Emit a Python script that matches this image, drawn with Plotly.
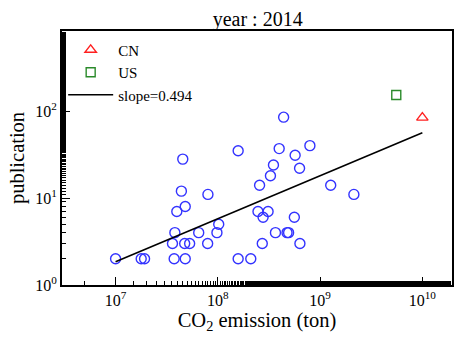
import plotly.graph_objects as go

# blue circles: other countries
emission = [1e7, 1.78e7, 1.92e7, 3.74e7, 4.8e7, 1.58e8, 2.1e8,
            3.6e7, 4.74e7, 5.3e7, 7.95e7, 2.72e8, 6.35e8,
            3.8e7, 6.5e7, 9.8e7, 3.66e8, 4.75e8, 4.92e8,
            1.02e8, 2.77e8, 5.6e8, 3.97e7, 2.47e8, 3.1e8, 4.8e7,
            4.4e7, 8e7, 2.56e8, 1.27e9, 2.14e9, 3.27e8, 3.5e8, 6.3e8,
            4.54e7, 5.7e8, 1.58e8, 3.98e8, 7.95e8, 4.4e8]
publication = [2, 2, 2, 2, 2, 2, 2,
               3, 3, 3, 3, 3, 3,
               4, 4, 4, 4, 4, 4,
               5, 6, 6, 7, 7, 7, 8,
               12, 11, 14, 14, 11, 18, 24, 22,
               28, 31, 35, 37, 40, 85]

cn_emission, cn_pub = [1e10], [84]
us_emission, us_pub = [5.56e9], [153]

slope = 0.494
fit_x = [1e7, 1e10]
fit_y = [1.85, 1.85 * (1e10 / 1e7) ** slope]

x_tickvals = [1e7, 1e8, 1e9, 1e10]
x_ticktext = ["10<sup>7</sup>", "10<sup>8</sup>", "10<sup>9</sup>", "10<sup>10</sup>"]
y_tickvals = [1, 10, 100]
y_ticktext = ["10<sup>0</sup>", "10<sup>1</sup>", "10<sup>2</sup>"]

serif = "Liberation Serif, Times New Roman, serif"

fig = go.Figure()
fig.add_trace(go.Scatter(x=emission, y=publication, mode="markers", showlegend=False,
                         marker=dict(symbol="circle-open", size=10, color="#3333ff",
                                     line=dict(width=1.4, color="#3333ff"))))
fig.add_trace(go.Scatter(x=cn_emission, y=cn_pub, mode="markers", name="CN",
                         marker=dict(symbol="triangle-up-open", size=10, color="#ff2020",
                                     line=dict(width=1.4))))
fig.add_trace(go.Scatter(x=us_emission, y=us_pub, mode="markers", name="US",
                         marker=dict(symbol="square-open", size=9, color="#2a8a2a",
                                     line=dict(width=1.4))))
fig.add_trace(go.Scatter(x=fit_x, y=fit_y, mode="lines", name="slope=0.494",
                         line=dict(color="black", width=1.6)))

axis_common = dict(type="log",
                   showline=True, linecolor="black", linewidth=2, mirror=True,
                   ticks="inside", ticklen=8, tickwidth=1.3, tickcolor="black",
                   minor=dict(ticks="inside", ticklen=4, tickwidth=1, tickcolor="black", showgrid=False),
                   showgrid=False, zeroline=False,
                   tickfont=dict(size=16, family=serif, color="black"))

fig.update_layout(
    width=466, height=349,
    margin=dict(l=62, r=12, t=31, b=64),
    paper_bgcolor="white", plot_bgcolor="white",
    font=dict(family=serif, color="black", size=16),
    title=dict(text="year : 2014", x=0.553, xanchor="center", y=0.945, yanchor="middle",
               font=dict(size=20, family=serif, color="black")),
    legend=dict(x=0.003, y=0.99, xanchor="left", yanchor="top", bgcolor="rgba(0,0,0,0)",
                itemwidth=45,
                font=dict(size=15, family=serif, color="black")),
    xaxis=dict(axis_common, range=[6.476, 10.29], tickvals=x_tickvals, ticktext=x_ticktext,
               title=dict(text="CO<sub>2</sub> emission (ton)",
                          font=dict(size=20.5, family=serif, color="black"), standoff=3)),
    yaxis=dict(axis_common, range=[0, 2.92], tickvals=y_tickvals, ticktext=y_ticktext,
               title=dict(text="publication",
                          font=dict(size=20.5, family=serif, color="black"), standoff=5)),
)

fig.write_html("out.html")
